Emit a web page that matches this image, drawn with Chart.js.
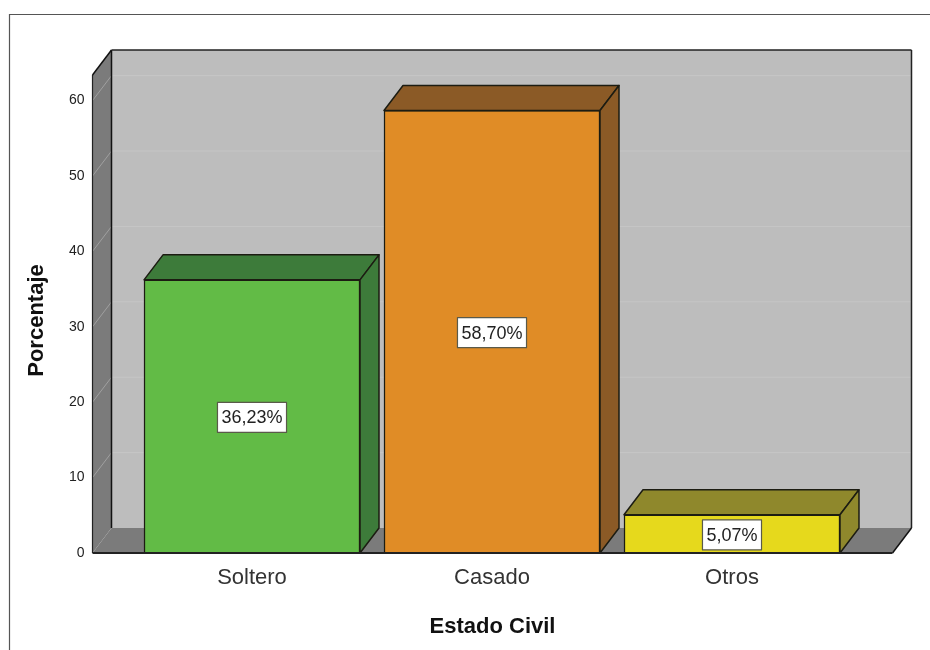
<!DOCTYPE html>
<html><head><meta charset="utf-8">
<style>html,body{margin:0;padding:0;background:#fff}#w{width:930px;height:650px}canvas{display:block}</style>
<script src="https://cdn.jsdelivr.net/npm/chart.js@4"></script>
</head><body><div id="w"><canvas id="c"></canvas></div>
<script>
const categories = ["Soltero", "Casado", "Otros"];
const values = [36.23, 58.70, 5.07];
const frontColors = ["#62bb46", "#e08c26", "#e6d91c"];
const sideColors = ["#3d7b3a", "#8b5a26", "#8f882c"];
const xTitle = "Estado Civil";
const yTitle = "Porcentaje";
const DX = 19, DY = -25;
const FONT = '"Liberation Sans", Arial, sans-serif';

function poly(ctx, pts, fill, stroke, lw) {
  ctx.beginPath();
  pts.forEach((p, i) => i ? ctx.lineTo(p[0], p[1]) : ctx.moveTo(p[0], p[1]));
  ctx.closePath();
  if (fill) { ctx.fillStyle = fill; ctx.fill(); }
  if (stroke) { ctx.strokeStyle = stroke; ctx.lineWidth = lw || 1.5; ctx.lineJoin = 'round'; ctx.stroke(); }
}
function line(ctx, a, b, color, lw) {
  ctx.beginPath(); ctx.moveTo(a[0], a[1]); ctx.lineTo(b[0], b[1]);
  ctx.strokeStyle = color; ctx.lineWidth = lw; ctx.stroke();
}

const box3d = {
  id: 'box3d',
  beforeDraw(chart) {
    const ctx = chart.ctx;
    ctx.save();
    ctx.strokeStyle = '#555'; ctx.lineWidth = 1.2;
    ctx.beginPath(); ctx.moveTo(9.5, 650); ctx.lineTo(9.5, 14.5); ctx.lineTo(930, 14.5); ctx.stroke();
    // y axis title, centred a little below the plot's middle as in the reference
    ctx.translate(37, 320.5);
    ctx.rotate(-Math.PI / 2);
    ctx.font = 'bold 22px ' + FONT;
    ctx.fillStyle = '#111';
    ctx.textAlign = 'center';
    ctx.textBaseline = 'middle';
    ctx.fillText(yTitle, 0, 0);
    ctx.restore();
  },
  beforeDatasetsDraw(chart) {
    const { ctx, chartArea: a, scales: { y } } = chart;
    const L = a.left, R = a.right, T = a.top, B = a.bottom;
    ctx.save();
    poly(ctx, [[L + DX, T + DY], [R + DX, T + DY], [R + DX, B + DY], [L + DX, B + DY]], '#bdbdbd');
    poly(ctx, [[L, T], [L + DX, T + DY], [L + DX, B + DY], [L, B]], '#7b7b7b');
    poly(ctx, [[L, B], [L + DX, B + DY], [R + DX, B + DY], [R, B]], '#7b7b7b');
    y.ticks.forEach(t => {
      const p = y.getPixelForValue(t.value);
      if (t.value === 0) return;
      line(ctx, [L + DX, p + DY], [R + DX, p + DY], '#c6c6c6', 1);
      line(ctx, [L, p], [L + DX, p + DY], '#a0a0a0', 1);
    });
    line(ctx, [L + DX, T + DY], [L + DX, B + DY], '#111', 1.5);
    line(ctx, [R + DX, T + DY], [R + DX, B + DY], '#222', 1.5);
    line(ctx, [L, T], [L, B], '#222', 1.2);
    line(ctx, [L, T], [L + DX, T + DY], '#111', 1.5);
    line(ctx, [L + DX, T + DY], [R + DX, T + DY], '#222', 1.5);
    line(ctx, [R, B], [R + DX, B + DY], '#111', 1.5);
    ctx.restore();
  },
  afterDatasetsDraw(chart) {
    const { ctx, chartArea: a } = chart;
    const bars = chart.getDatasetMeta(0).data;
    ctx.save();
    bars.forEach((b, i) => {
      const l = b.x - b.width / 2, r = b.x + b.width / 2, t = b.y, bt = b.base;
      poly(ctx, [[l, t], [l + DX, t + DY], [r + DX, t + DY], [r, t]], sideColors[i], '#1c1c12', 1.5);
      poly(ctx, [[r, t], [r + DX, t + DY], [r + DX, bt + DY], [r, bt]], sideColors[i], '#1c1c12', 1.5);
    });
    line(ctx, [a.left, a.bottom], [a.right, a.bottom], '#222', 2);
    ctx.font = '18px ' + FONT;
    ctx.textAlign = 'center';
    ctx.textBaseline = 'middle';
    bars.forEach((b, i) => {
      const txt = values[i].toFixed(2).replace('.', ',') + '%';
      const w = ctx.measureText(txt).width + 8, h = 30;
      const cx = b.x, cy = (b.y + b.base) / 2 + 1;
      ctx.fillStyle = '#fff';
      ctx.fillRect(cx - w / 2, cy - h / 2, w, h);
      ctx.strokeStyle = '#5a5a4a'; ctx.lineWidth = 1.2;
      ctx.strokeRect(cx - w / 2, cy - h / 2, w, h);
      ctx.fillStyle = '#222';
      ctx.fillText(txt, cx, cy + 1);
    });
    ctx.restore();
  }
};

new Chart(document.getElementById('c'), {
  type: 'bar',
  data: {
    datasets: [{
      data: categories.map((c, i) => ({ x: i, y: values[i] })),
      backgroundColor: frontColors,
      borderColor: '#1c1c12',
      borderWidth: 1.5,
      barThickness: 216
    }]
  },
  plugins: [box3d],
  options: {
    responsive: true,
    maintainAspectRatio: false,
    animation: false,
    layout: { padding: { top: 75, right: 37.5, left: 0, bottom: 0 } },
    plugins: { legend: { display: false }, tooltip: { enabled: false } },
    scales: {
      x: {
        type: 'linear',
        offset: false,
        min: -0.6646,
        max: 2.6688,
        afterFit(s) { s.height = 97; },
        grid: { display: false, drawTicks: false, offset: false },
        border: { display: false },
        ticks: {
          stepSize: 1,
          includeBounds: false,
          padding: 12,
          maxRotation: 0,
          autoSkip: false,
          color: '#333',
          font: { family: FONT, size: 22 },
          callback: v => categories[v] ?? ''
        },
        title: {
          display: true,
          text: xTitle,
          color: '#111',
          font: { family: FONT, size: 22, weight: 'bold' },
          padding: { top: 0, bottom: 10 }
        }
      },
      y: {
        min: 0,
        max: 63.4,
        afterFit(s) { s.width = 92.5; },
        grid: { display: false, drawTicks: false },
        border: { display: false },
        ticks: {
          stepSize: 10,
          includeBounds: false,
          padding: 8,
          color: '#222',
          font: { family: FONT, size: 14 }
        }
      }
    }
  }
});
</script></body></html>
